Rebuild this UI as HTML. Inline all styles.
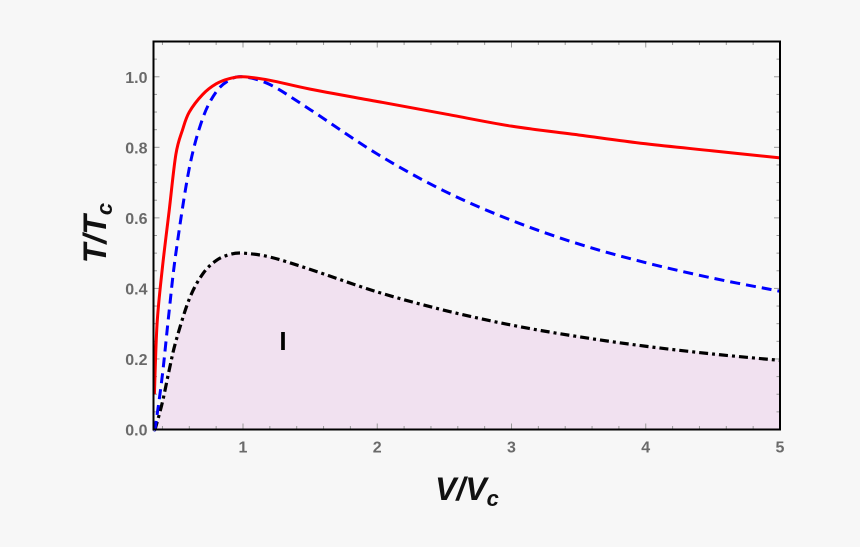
<!DOCTYPE html>
<html><head><meta charset="utf-8"><style>
html,body{margin:0;padding:0;background:#f7f7f7;}
svg{display:block;}
.tl{font-family:"Liberation Sans",sans-serif;font-weight:bold;font-size:16px;fill:#6a6a6a;}
.at{font-family:"Liberation Sans",sans-serif;font-weight:bold;font-style:italic;font-size:32px;fill:#111;}
</style></head><body>
<svg id="chart" width="860" height="547" viewBox="0 0 860 547" xmlns="http://www.w3.org/2000/svg">
<rect width="860" height="547" fill="#f7f7f7"/>
<g id="plot"></g>
</svg>
<script>
const xTicks=[1,2,3,4,5];
const yTicks=[0.0,0.2,0.4,0.6,0.8,1.0];
const yTickLabels=["0.0","0.2","0.4","0.6","0.8","1.0"];
const vRed=[0.34,0.36,0.4,0.45,0.5,0.55,0.6,0.7,0.8,0.9,1,1.2,1.5,2,2.5,3,3.5,4,4.5,5];
const tRed=[0.1,0.3,0.46,0.62,0.78,0.85,0.9,0.95,0.98,0.995,1,0.99,0.965,0.93,0.895,0.86,0.835,0.81,0.79,0.77];
const vBlue=[0.34,0.35,0.4,0.45,0.5,0.6,0.7,0.8,0.9,1,1.2,1.5,2,2.5,3,3.5,4,4.5,5];
const tBlue=[0.0,0.015,0.156,0.336,0.5,0.741,0.882,0.957,0.991,1,0.978,0.907,0.781,0.676,0.593,0.526,0.473,0.429,0.392];
const vBlack=[0.34,0.35,0.4,0.45,0.5,0.6,0.7,0.8,0.9,1,1.2,1.5,2,2.5,3,3.5,4,4.5,5];
const tBlack=[0.0,0.007,0.078,0.168,0.25,0.37,0.441,0.479,0.496,0.5,0.489,0.454,0.39,0.338,0.296,0.263,0.236,0.214,0.196];

const L=153.5,R=780,T=41.5,B=429.5,xmin=1/3,xmax=5,ymin=0,ymax=1.1;
const X=v=>L+(v-xmin)/(xmax-xmin)*(R-L);
const Y=t=>B-(t-ymin)/(ymax-ymin)*(B-T);
const NS="http://www.w3.org/2000/svg";
const g=document.getElementById('plot');
function mk(tag,attrs){const e=document.createElementNS(NS,tag);for(const k in attrs)e.setAttribute(k,attrs[k]);return e;}
function smooth(vs,ts){
  const p=vs.map((v,i)=>[X(v),Y(Math.max(ts[i],0))]);
  let d=`M${p[0][0]},${p[0][1]}`;
  for(let i=0;i<p.length-1;i++){
    const p0=p[i-1]||p[i],p1=p[i],p2=p[i+1],p3=p[i+2]||p2;
    const c1=[p1[0]+(p2[0]-p0[0])/6,p1[1]+(p2[1]-p0[1])/6];
    const c2=[p2[0]-(p3[0]-p1[0])/6,p2[1]-(p3[1]-p1[1])/6];
    d+=` C${c1[0]},${c1[1]} ${c2[0]},${c2[1]} ${p2[0]},${p2[1]}`;
  }
  return d;
}
// fill under black
const fd=smooth(vBlack,tBlack)+` L${X(vBlack[vBlack.length-1])},${B} L${X(vBlack[0])},${B} Z`;
const fill=mk('path',{d:fd,fill:'#f1e1f0'});


g.appendChild(fill);
// ticks
const tickG=mk('g',{stroke:'#999','stroke-width':1});


g.appendChild(tickG);
for(let v=0.4;v<=5.001;v+=0.2){
  const x=X(v),major=Math.abs(v-Math.round(v))<0.01;
  const len=major?6:3.5;
  tickG.appendChild(mk('line',{x1:x,x2:x,y1:B,y2:B-len}));
  tickG.appendChild(mk('line',{x1:x,x2:x,y1:T,y2:T+len}));
}
for(let t=0.05;t<=1.1;t+=0.05){
  const y=Y(t),major=Math.abs(t*5-Math.round(t*5))<0.01;
  const len=major?6:3.5;
  tickG.appendChild(mk('line',{x1:L,x2:L+len,y1:y,y2:y}));
  tickG.appendChild(mk('line',{x1:R,x2:R-len,y1:y,y2:y}));
}
// tick labels
xTicks.forEach(v=>{
  const t=mk('text',{x:X(v),y:B+23,'text-anchor':'middle',class:'tl'});
  t.textContent=String(v);
  
  
  g.appendChild(t);
});
yTicks.forEach((v,i)=>{
  const t=mk('text',{x:L-6,y:Y(v)+6,'text-anchor':'end',class:'tl'});
  t.textContent=yTickLabels[i];
  
  
  g.appendChild(t);
});
// curves
const black=mk('path',{d:smooth(vBlack,tBlack),fill:'none',stroke:'#000','stroke-width':3.2,'stroke-dasharray':'9 4 3 4'});


g.appendChild(black);
const blue=mk('path',{d:smooth(vBlue,tBlue),fill:'none',stroke:'#0000ff','stroke-width':3,'stroke-dasharray':'10 6'});


g.appendChild(blue);
const red=mk('path',{d:smooth(vRed,tRed),fill:'none',stroke:'#ff0000','stroke-width':3});


g.appendChild(red);
// frame
const fr=mk('rect',{x:L,y:T,width:R-L,height:B-T,fill:'none',stroke:'#000','stroke-width':2});


g.appendChild(fr);
// region label
const rl=mk('text',{x:283,y:350,'text-anchor':'middle','font-family':'Liberation Sans, sans-serif','font-weight':'bold','font-size':'26px',fill:'#000'});
rl.textContent='I';


g.appendChild(rl);
// axis titles
const xt=mk('text',{x:467,y:500,'text-anchor':'middle',class:'at'});
xt.innerHTML='V/V<tspan font-size="22" dy="6">c</tspan>';


g.appendChild(xt);
const yt=mk('text',{x:0,y:0,'text-anchor':'middle',class:'at',transform:'translate(106,233) rotate(-90)'});
yt.innerHTML='T/T<tspan font-size="22" dy="6">c</tspan>';


g.appendChild(yt);
</script>
</body></html>
